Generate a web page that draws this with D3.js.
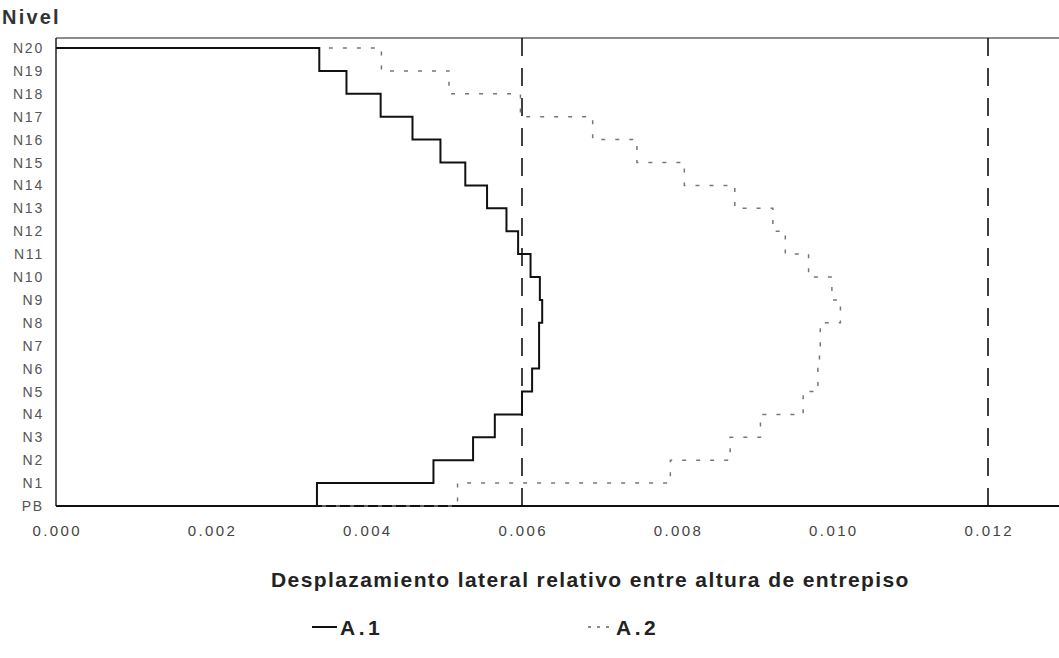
<!DOCTYPE html>
<html>
<head>
<meta charset="utf-8">
<script src="https://cdn.jsdelivr.net/npm/d3@7"></script>
<style>
  html, body { margin: 0; padding: 0; background: #fff; }
  svg { display: block; font-family: "Liberation Sans", Arial, sans-serif; }
</style>
</head>
<body>
<svg id="chart" width="1059" height="658"></svg>
<script>
// Levels (bottom to top)
const levels = ["PB","N1","N2","N3","N4","N5","N6","N7","N8","N9","N10",
                "N11","N12","N13","N14","N15","N16","N17","N18","N19","N20"];
// Story drifts: story i spans levels[i-1] .. levels[i]
const driftA1 = [0.00336, 0.00486, 0.00537, 0.00565, 0.00600, 0.00613, 0.00622, 0.00622, 0.00626, 0.00623,
                 0.00611, 0.00595, 0.00580, 0.00555, 0.00527, 0.00495, 0.00459, 0.00418, 0.00374, 0.00339];
const driftA2 = [0.00517, 0.00791, 0.00868, 0.00907, 0.00962, 0.00981, 0.00983, 0.00984, 0.01010, 0.00999,
                 0.00969, 0.00939, 0.00923, 0.00874, 0.00809, 0.00748, 0.00691, 0.00598, 0.00506, 0.00419];
const xTicks = [0, 0.002, 0.004, 0.006, 0.008, 0.010, 0.012];
const limits = [0.006, 0.012];
const seriesNames = ["A.1", "A.2"];

const svg = d3.select("#chart");
const mLeft = 56, mRight = 1221, mTop = 38, mBottom = 506;

const x = d3.scaleLinear().domain([0, 0.015]).range([mLeft, mRight]);
const y = d3.scalePoint().domain(levels).range([mBottom, 48]);

// Frame (top line, left axis, bottom axis)
svg.append("line").attr("x1", mLeft).attr("x2", 1059).attr("y1", mTop).attr("y2", mTop)
  .attr("stroke", "#666").attr("stroke-width", 1.5);
svg.append("line").attr("x1", mLeft).attr("x2", mLeft).attr("y1", mTop).attr("y2", mBottom)
  .attr("stroke", "#222").attr("stroke-width", 1.5);
svg.append("line").attr("x1", mLeft).attr("x2", 1059).attr("y1", mBottom).attr("y2", mBottom)
  .attr("stroke", "#111").attr("stroke-width", 2);

// Limit dashed lines
svg.selectAll("line.limit").data(limits).join("line")
  .attr("class", "limit")
  .attr("x1", d => x(d)).attr("x2", d => x(d))
  .attr("y1", mTop).attr("y2", mBottom)
  .attr("stroke", "#111").attr("stroke-width", 1.6)
  .attr("stroke-dasharray", "18,12");

// Step path builder
function stepPoints(vals) {
  const pts = [[0, levels[0]]];
  vals.forEach((v, i) => {
    pts.push([v, levels[i]]);
    pts.push([v, levels[i + 1]]);
  });
  pts.push([0, levels[levels.length - 1]]);
  return pts;
}
const line = d3.line().x(d => x(d[0])).y(d => y(d[1]));

svg.append("path").datum(stepPoints(driftA2))
  .attr("d", line).attr("fill", "none")
  .attr("stroke", "#777").attr("stroke-width", 1.5)
  .attr("stroke-dasharray", "4,10");

svg.append("path").datum(stepPoints(driftA1))
  .attr("d", line).attr("fill", "none")
  .attr("stroke", "#111").attr("stroke-width", 2);

// Y labels
svg.selectAll("text.ylab").data(levels).join("text")
  .attr("class", "ylab")
  .attr("x", 44).attr("y", d => y(d))
  .attr("dy", "0.36em")
  .attr("text-anchor", "end")
  .attr("font-size", 14).attr("letter-spacing", 1.8)
  .attr("fill", "#555")
  .text(d => d);

// X tick labels
svg.selectAll("text.xlab").data(xTicks).join("text")
  .attr("class", "xlab")
  .attr("x", d => x(d) + 1.2).attr("y", 536)
  .attr("text-anchor", "middle")
  .attr("font-size", 15).attr("letter-spacing", 2.4)
  .attr("fill", "#444")
  .text(d => d3.format(".3f")(d));

// Titles
svg.append("text").attr("x", 2).attr("y", 24)
  .attr("font-size", 20).attr("font-weight", "bold").attr("fill", "#333")
  .attr("letter-spacing", 2.2)
  .text("Nivel");

svg.append("text").attr("x", 271).attr("y", 587)
  .attr("font-size", 21).attr("font-weight", "bold").attr("fill", "#222")
  .attr("letter-spacing", 1.4)
  .text("Desplazamiento lateral relativo entre altura de entrepiso");

// Legend
const legend = [
  {name: seriesNames[0], lx: 312, dash: null, color: "#111", w: 2},
  {name: seriesNames[1], lx: 588, dash: "3,6", color: "#666", w: 1.5}
];
const lg = svg.selectAll("g.leg").data(legend).join("g").attr("class", "leg");
lg.append("line")
  .attr("x1", d => d.lx).attr("x2", d => d.lx + 25)
  .attr("y1", 627).attr("y2", 627)
  .attr("stroke", d => d.color).attr("stroke-width", d => d.w)
  .attr("stroke-dasharray", d => d.dash);
lg.append("text")
  .attr("x", d => d.lx + 28).attr("y", 635)
  .attr("font-size", 21).attr("font-weight", "bold").attr("fill", "#222")
  .attr("letter-spacing", 3.5)
  .text(d => d.name);
</script>
</body>
</html>
